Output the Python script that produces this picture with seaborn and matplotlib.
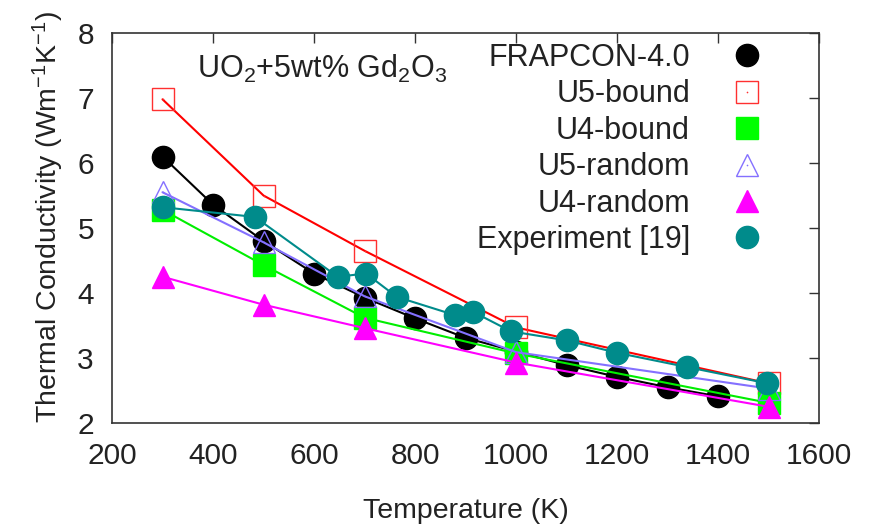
import numpy as np
import pandas as pd
import seaborn as sns
import matplotlib
matplotlib.use("Agg")
import matplotlib.pyplot as plt
from matplotlib.lines import Line2D

# ---- data ----
frap_T = [300, 400, 500, 600, 700, 800, 900, 1000, 1100, 1200, 1300, 1400]
frap_k = [6.10, 5.36, 4.80, 4.30, 3.93, 3.61, 3.31, 3.10, 2.89, 2.71, 2.55, 2.41]

calc_T = [300, 500, 700, 1000, 1500]
u5_bound = [6.98, 5.50, 4.65, 3.47, 2.61]
u4_bound = [5.28, 4.43, 3.62, 3.07, 2.31]
u5_random = [5.55, 4.78, 3.95, 3.09, 2.53]
u4_random = [4.25, 3.82, 3.46, 2.93, 2.25]

exp_T = [300, 483, 647, 703, 764, 879, 915, 990, 1101, 1200, 1339, 1498]
exp_k = [5.32, 5.17, 4.25, 4.30, 3.94, 3.66, 3.71, 3.41, 3.27, 3.08, 2.86, 2.61]

labels = ["FRAPCON-4.0", "U5-bound", "U4-bound", "U5-random", "U4-random", "Experiment [19]"]
x_ticks = [200, 400, 600, 800, 1000, 1200, 1400, 1600]
y_ticks = [2, 3, 4, 5, 6, 7, 8]

sns.set_theme(style="white")
plt.rcParams["font.family"] = ["Liberation Sans", "DejaVu Sans"]
plt.rcParams["mathtext.fontset"] = "custom"
plt.rcParams["mathtext.rm"] = "Liberation Sans"
plt.rcParams["mathtext.it"] = "Liberation Sans"

fig = plt.figure(figsize=(8.69, 5.29), dpi=100)
ax = fig.add_axes([112 / 869, 1 - 423 / 529, (819 - 112) / 869, (423 - 33) / 529])

series = [
    dict(x=frap_T, y=frap_k, color="black", marker="o", ms=16, mfc="black", mec="black", dot=False),
    dict(x=calc_T, y=u5_bound, color="#ff0000", marker="s", ms=16, mfc="none", mec="#ff3030", dot=True),
    dict(x=calc_T, y=u4_bound, color="#00ee00", marker="s", ms=16.5, mfc="#00ff00", mec="#00ff00", dot=False),
    dict(x=calc_T, y=u5_random, color="#8470ff", marker="^", ms=16, mfc="none", mec="#8470ff", dot=True),
    dict(x=calc_T, y=u4_random, color="#ff00ff", marker="^", ms=16, mfc="#ff00ff", mec="#ff00ff", dot=False),
    dict(x=exp_T, y=exp_k, color="#008b8b", marker="o", ms=16, mfc="#008b8b", mec="#008b8b", dot=False),
]

handles = []
for i, s in enumerate(series):
    df = pd.DataFrame({"T": s["x"], "k": s["y"]})
    sns.lineplot(data=df, x="T", y="k", ax=ax, color=s["color"], lw=1.5,
                 marker=s["marker"], markersize=s["ms"], markerfacecolor=s["mfc"],
                 markeredgecolor=s["mec"], markeredgewidth=1, legend=False,
                 zorder=2 + i)
    h = Line2D([], [], linestyle="none", marker=s["marker"], markersize=s["ms"],
               markerfacecolor=s["mfc"], markeredgecolor=s["mec"], markeredgewidth=1)
    if s["dot"]:
        sns.lineplot(data=df, x="T", y="k", ax=ax, color=s["mec"], lw=0,
                     marker="o", markersize=1.2, markerfacecolor=s["mec"],
                     markeredgecolor=s["mec"], markeredgewidth=0, legend=False,
                     zorder=2 + i)
        d = Line2D([], [], linestyle="none", marker="o", markersize=1.2,
                   markerfacecolor=s["mec"], markeredgewidth=0)
        h = (h, d)
    handles.append(h)

ax.set_xlim(200, 1600)
ax.set_ylim(2, 8)
ax.set_xticks(x_ticks)
ax.set_yticks(y_ticks)
ax.tick_params(direction="in", length=7, width=1, top=True, right=True,
               labelsize=21.5, colors="#333333", labelcolor="#222222")
ax.tick_params(axis="x", pad=14)
ax.tick_params(axis="y", pad=13)
for sp in ax.spines.values():
    sp.set_color("#333333")
    sp.set_linewidth(1.2)

ax.set_xlabel("Temperature (K)", fontsize=20.5, labelpad=20, color="#222222")
ax.set_ylabel("Thermal Conductivity (Wm$^{-1}$K$^{-1}$)", fontsize=20.5, labelpad=8,
              color="#222222")
ax.yaxis.label.set_y(0.527)

ax.text(616, 7.31, "UO$_2$+5wt% Gd$_2$O$_3$", fontsize=22, ha="center", va="baseline",
        color="#222222")

leg = ax.legend(handles, labels, loc="upper right", markerfirst=False, frameon=False,
                fontsize=22, handlelength=1.0, handletextpad=1.36, labelspacing=0.21,
                borderpad=0, borderaxespad=0,
                bbox_to_anchor=(762 / 869, 1 - 43 / 529), bbox_transform=fig.transFigure)
for t in leg.get_texts():
    t.set_ha("right")
    t.set_color("#222222")
leg._legend_box.align = "right"

fig.savefig("out.png", dpi=100)
